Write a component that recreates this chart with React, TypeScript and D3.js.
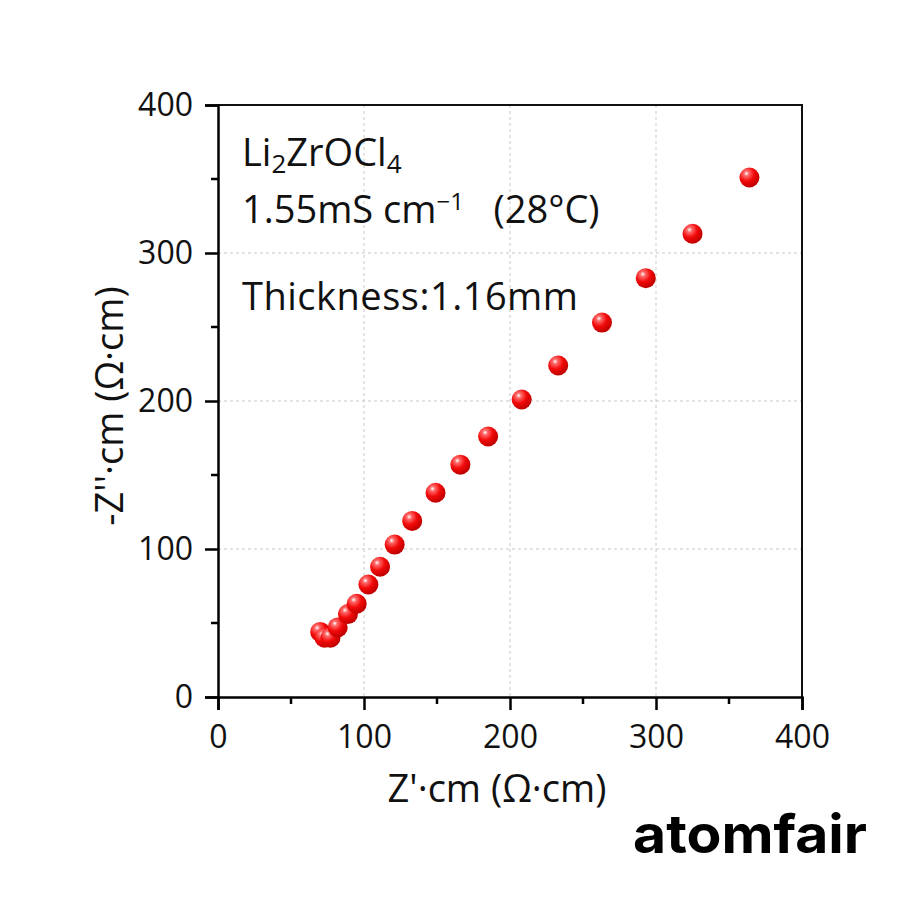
import { useEffect, useRef } from "react";
import * as d3 from "d3";

// Z' (ohm·cm) and -Z'' (ohm·cm)
const zReal = [70, 73, 77, 82, 89, 95, 103, 111, 121, 133, 149, 166, 185, 208, 233, 263, 293, 325, 364];
const zImag = [44, 40, 40, 47, 56, 63, 76, 88, 103, 119, 138, 157, 176, 201, 224, 253, 283, 313, 351];

const majorTicks = [0, 100, 200, 300, 400];
const minorTicks = [50, 150, 250, 350];

const W = 900;
const H = 900;
const m = { left: 218, right: 802, top: 105, bottom: 697 };
const font = "'Open Sans', 'Noto Sans', sans-serif";

const App = () => {
  const svgRef = useRef<SVGSVGElement>(null);

  useEffect(() => {
    const svg = d3.select(svgRef.current);
    svg.selectAll("*").remove();

    const x = d3.scaleLinear().domain([0, 400]).range([m.left, m.right]);
    const y = d3.scaleLinear().domain([0, 400]).range([m.bottom, m.top]);

    // sphere look for the markers
    const grad = svg
      .append("defs")
      .append("radialGradient")
      .attr("id", "ball")
      .attr("cx", "0.35")
      .attr("cy", "0.3")
      .attr("r", "0.7");
    grad.append("stop").attr("offset", "0").attr("stop-color", "#ffffff");
    grad.append("stop").attr("offset", "0.18").attr("stop-color", "#ff6a6a");
    grad.append("stop").attr("offset", "0.55").attr("stop-color", "#f20a0a");
    grad.append("stop").attr("offset", "1").attr("stop-color", "#c00000");

    // dashed grid
    const grid = svg.append("g").attr("stroke", "#c8c8c8").attr("stroke-dasharray", "3,3");
    grid
      .selectAll(".gx")
      .data([100, 200, 300])
      .join("line")
      .attr("x1", (d) => x(d))
      .attr("x2", (d) => x(d))
      .attr("y1", m.top)
      .attr("y2", m.bottom);
    grid
      .selectAll(".gy")
      .data([100, 200, 300])
      .join("line")
      .attr("y1", (d) => y(d))
      .attr("y2", (d) => y(d))
      .attr("x1", m.left)
      .attr("x2", m.right);

    // frame top/right
    svg
      .append("path")
      .attr("d", `M${m.left},${m.top}H${m.right}V${m.bottom}`)
      .attr("fill", "none")
      .attr("stroke", "#111")
      .attr("stroke-width", 2);

    // axes
    const xAxis = svg
      .append("g")
      .attr("transform", `translate(0,${m.bottom})`)
      .call(d3.axisBottom(x).tickValues(majorTicks).tickSize(13).tickPadding(15));
    xAxis
      .append("g")
      .selectAll("line")
      .data(minorTicks)
      .join("line")
      .attr("x1", (d) => x(d))
      .attr("x2", (d) => x(d))
      .attr("y1", 0)
      .attr("y2", 7)
      .attr("stroke", "#000");

    const yAxis = svg
      .append("g")
      .attr("transform", `translate(${m.left},0)`)
      .call(d3.axisLeft(y).tickValues(majorTicks).tickSize(13).tickPadding(12));
    yAxis
      .append("g")
      .selectAll("line")
      .data(minorTicks)
      .join("line")
      .attr("y1", (d) => y(d))
      .attr("y2", (d) => y(d))
      .attr("x1", 0)
      .attr("x2", -7)
      .attr("stroke", "#000");

    [xAxis, yAxis].forEach((a) => {
      a.select(".domain").attr("stroke", "#000").attr("stroke-width", 2.5);
      a.selectAll("line").attr("stroke-width", 2.5);
      a.selectAll("text")
        .attr("font-family", font)
        .attr("font-size", 32)
        .attr("fill", "#111");
    });

    // axis titles
    svg
      .append("text")
      .attr("x", 497)
      .attr("y", 802)
      .attr("text-anchor", "middle")
      .attr("font-family", font)
      .attr("font-size", 38)
      .attr("fill", "#111")
      .text("Z'·cm (Ω·cm)");
    svg
      .append("text")
      .attr("transform", `translate(123,406) rotate(-90)`)
      .attr("text-anchor", "middle")
      .attr("font-family", font)
      .attr("font-size", 38)
      .attr("fill", "#111")
      .text("-Z''·cm (Ω·cm)");

    // points
    const pts = zReal.map((v, i) => ({ re: v, im: zImag[i] }));
    svg
      .append("g")
      .selectAll("circle")
      .data(pts)
      .join("circle")
      .attr("cx", (d) => x(d.re))
      .attr("cy", (d) => y(d.im))
      .attr("r", 10)
      .attr("fill", "url(#ball)");

    // annotations
    const note = svg
      .append("g")
      .attr("font-family", font)
      .attr("font-size", 38)
      .attr("fill", "#111");
    const l1 = note.append("text").attr("x", 242).attr("y", 166);
    l1.append("tspan").text("Li");
    l1.append("tspan").attr("dy", 7).attr("font-size", 26).text("2");
    l1.append("tspan").attr("dy", -7).text("ZrOCl");
    l1.append("tspan").attr("dy", 7).attr("font-size", 26).text("4");
    const l2 = note.append("text").attr("x", 242).attr("y", 223);
    l2.append("tspan").text("1.55mS cm");
    l2.append("tspan").attr("dy", -13).attr("font-size", 24).text("−1");
    l2.append("tspan").attr("dy", 13).attr("xml:space", "preserve").text("   (28°C)");
    note
      .append("text")
      .attr("x", 242)
      .attr("y", 310)
      .attr("textLength", 336)
      .text("Thickness:1.16mm");

    svg
      .append("text")
      .attr("x", 633)
      .attr("y", 853)
      .attr("textLength", 234)
      .attr("lengthAdjust", "spacingAndGlyphs")
      .attr("font-family", "Inter, 'Noto Sans', sans-serif")
      .attr("font-weight", 700)
      .attr("font-size", 54)
      .attr("fill", "#000")
      .text("atomfair");
  }, []);

  return (
    <svg
      ref={svgRef}
      width={W}
      height={H}
      style={{ position: "absolute", left: 0, top: 0, background: "#fff" }}
    />
  );
};

export default App;
